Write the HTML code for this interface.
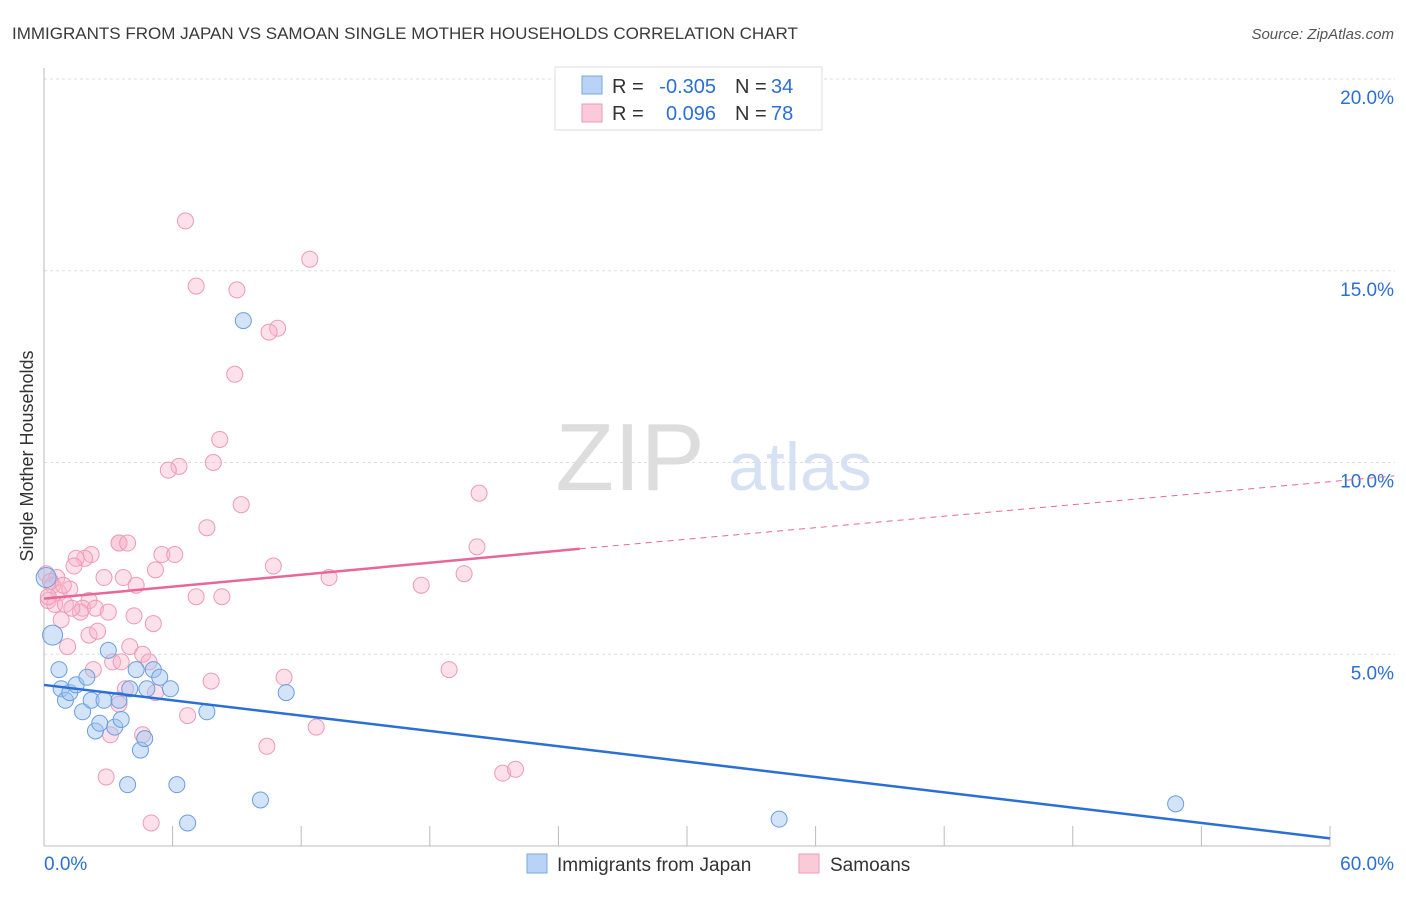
<!DOCTYPE html>
<html><head><meta charset="utf-8"><style>
body{margin:0;background:#fff;font-family:"Liberation Sans",sans-serif;}
svg text{font-family:"Liberation Sans",sans-serif;}
</style></head><body>
<svg width="1406" height="892">
<text x="12" y="39" font-size="17" fill="#3a3a3a">IMMIGRANTS FROM JAPAN VS SAMOAN SINGLE MOTHER HOUSEHOLDS CORRELATION CHART</text>
<text x="1394" y="39" font-size="15" fill="#555" font-style="italic" text-anchor="end">Source: ZipAtlas.com</text>
<g id="grid"></g>
<text x="630" y="490" font-size="96" fill="#ddd" font-family="Liberation Serif" text-anchor="middle">ZIP</text>
<text x="800" y="490" font-size="68" fill="#d6e2f3" text-anchor="middle">atlas</text>
<text x="33" y="456" font-size="18" fill="#333" text-anchor="middle" transform="rotate(-90 33 456)">Single Mother Households</text>
<g id="pts"></g>
<g id="lines"></g>
<g>
<rect x="555" y="67" width="267" height="63" fill="#fff" stroke="#ddd"/>
<rect x="582" y="76" width="20" height="18" fill="#b8d3f5" stroke="#7aa7e0"/>
<rect x="582" y="104" width="20" height="18" fill="#fbcad8" stroke="#ee9ab4"/>
<text x="612" y="93" font-size="20" fill="#333">R =</text>
<text x="716" y="93" font-size="20" fill="#2b6fd4" text-anchor="end">-0.305</text>
<text x="735" y="93" font-size="20" fill="#333">N =</text>
<text x="771" y="93" font-size="20" fill="#2b6fd4">34</text>
<text x="612" y="120" font-size="20" fill="#333">R =</text>
<text x="716" y="120" font-size="20" fill="#2b6fd4" text-anchor="end">0.096</text>
<text x="735" y="120" font-size="20" fill="#333">N =</text>
<text x="771" y="120" font-size="20" fill="#2b6fd4">78</text>
</g>
<g>
<rect x="527" y="854" width="20" height="19" fill="#b8d3f5" stroke="#7aa7e0"/>
<text x="557" y="871" font-size="19" fill="#333">Immigrants from Japan</text>
<rect x="799" y="854" width="20" height="19" fill="#fbcad8" stroke="#ee9ab4"/>
<text x="830" y="871" font-size="19" fill="#333">Samoans</text>
</g>
</svg>
<script>
const yTicks=[5,10,15,20];
const xTickLabels=["0.0%","60.0%"];
const blueX=[0.4,0.7,0.8,1.0,1.2,1.5,1.8,2.0,2.2,2.4,2.6,2.8,3.0,3.3,3.5,3.6,3.9,4.0,4.3,4.5,4.7,4.8,5.1,5.4,5.9,6.2,6.7,7.6,9.3,10.1,11.3,34.3,52.8,0.1];
const blueY=[5.5,4.6,4.1,3.8,4.0,4.2,3.5,4.4,3.8,3.0,3.2,3.8,5.1,3.1,3.8,3.3,1.6,4.1,4.6,2.5,2.8,4.1,4.6,4.4,4.1,1.6,0.6,3.5,13.7,1.2,4.0,0.7,1.1,7.0];
const pinkX=[6.6,12.4,7.1,9.0,10.9,10.5,8.9,8.2,7.9,6.3,5.8,9.2,20.3,7.6,20.2,3.5,3.5,2.2,1.9,1.5,5.5,6.1,5.2,10.7,13.3,19.6,17.6,0.1,0.6,0.4,0.7,1.2,2.8,3.7,4.3,2.1,0.2,0.5,1.0,1.8,1.7,2.4,3.0,4.2,7.1,8.3,5.1,0.8,2.1,2.5,1.1,4.0,4.6,3.2,3.6,4.9,2.3,11.2,7.8,3.8,5.2,18.9,6.7,3.5,12.7,3.1,4.6,10.4,2.9,21.4,22.0,5.0,0.2,1.3,1.4,3.9,0.3,0.9];
const pinkY=[16.3,15.3,14.6,14.5,13.5,13.4,12.3,10.6,10.0,9.9,9.8,8.9,9.2,8.3,7.8,7.9,7.9,7.6,7.5,7.5,7.6,7.6,7.2,7.3,7.0,7.1,6.8,7.1,7.0,6.8,6.6,6.7,7.0,7.0,6.8,6.4,6.4,6.3,6.3,6.2,6.1,6.2,6.1,6.0,6.5,6.5,5.8,5.9,5.5,5.6,5.2,5.2,5.0,4.8,4.8,4.8,4.6,4.4,4.3,4.1,4.0,4.6,3.4,3.7,3.1,2.9,2.9,2.6,1.8,1.9,2.0,0.6,6.5,6.2,7.3,7.9,6.9,6.8];
const blueTrend=[4.2,0.2];
const pinkTrend=[6.45,7.75,9.65];
const ns="http://www.w3.org/2000/svg";
const X=v=>44+v*21.433, Y=v=>846-v*38.35;
function mk(t,a,p){const e=document.createElementNS(ns,t);for(const k in a)e.setAttribute(k,a[k]);p.appendChild(e);return e;}
const g=document.getElementById('grid');
yTicks.forEach(t=>{const l=mk('line',{x1:44,x2:1395,y1:Y(t),y2:Y(t),stroke:'#ddd','stroke-dasharray':'3,3'},g);


const tx=mk('text',{x:1394,y:Y(t)+25,'font-size':19,fill:'#2b6fd4','text-anchor':'end'},g);tx.textContent=t.toFixed(1)+'%';

});
mk('line',{x1:44,x2:44,y1:68,y2:846,stroke:'#bbb'},g);
mk('line',{x1:44,x2:1330,y1:846,y2:846,stroke:'#bbb'},g);
for(let i=0;i<=10;i++){const l=mk('line',{x1:X(i*6),x2:X(i*6),y1:826,y2:846,stroke:'#bbb'},g);

}
[[0,44,'start'],[60,1394,'end']].forEach((d,i)=>{const t=mk('text',{x:d[1],y:870,'font-size':19,fill:'#2b6fd4','text-anchor':d[2]},g);t.textContent=xTickLabels[i];

});
const p=document.getElementById('pts');
pinkX.forEach((x,i)=>{const c=mk('circle',{cx:X(x),cy:Y(pinkY[i]),r:8,fill:'rgba(248,180,202,0.4)',stroke:'#ee9ab4','stroke-width':1},p);

});
blueX.forEach((x,i)=>{const c=mk('circle',{cx:X(x),cy:Y(blueY[i]),r:i==0||i==33?10:8,fill:'rgba(160,195,240,0.45)',stroke:'#6a9ee0','stroke-width':1},p);

});
const L=document.getElementById('lines');
let a=mk('line',{x1:X(0),y1:Y(blueTrend[0]),x2:X(60),y2:Y(blueTrend[1]),stroke:'#2a6fd6','stroke-width':2.5},L);


let b=mk('line',{x1:X(0),y1:Y(pinkTrend[0]),x2:X(25),y2:Y(pinkTrend[1]),stroke:'#e8679a','stroke-width':2.5},L);


let c=mk('line',{x1:X(25),y1:Y(pinkTrend[1]),x2:X(63),y2:Y(pinkTrend[2]),stroke:'#e8679a','stroke-width':1,'stroke-dasharray':'6,5'},L);


</script>
</body></html>
